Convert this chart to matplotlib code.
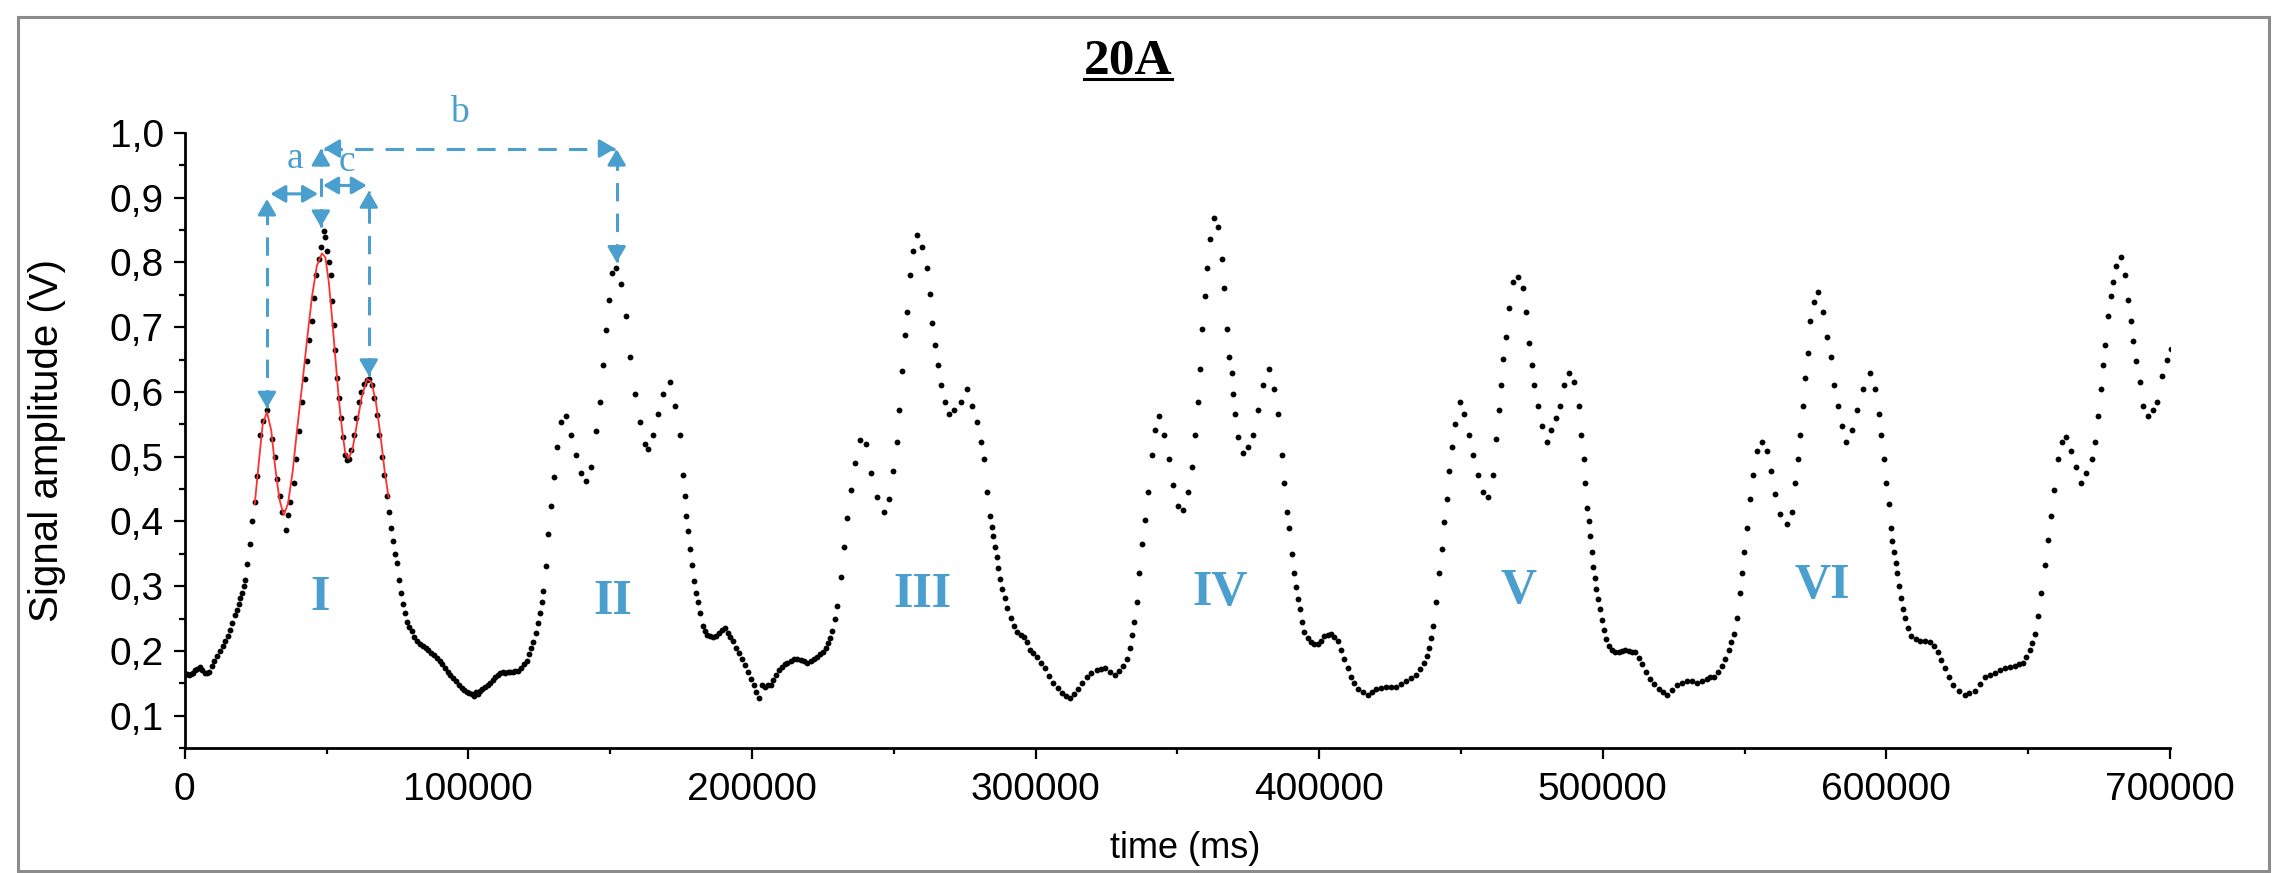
import numpy as np
import matplotlib
matplotlib.use('Agg')
import matplotlib.pyplot as plt
from matplotlib.ticker import FuncFormatter, MultipleLocator
from matplotlib.patches import Rectangle
from matplotlib.lines import Line2D

plt.rcParams['font.family'] = 'Liberation Sans'

# Measured signal, one pair of lists per 100000 ms stretch (time in ms, amplitude in V).
t_seg0 = [0, 800, 1500, 2300, 3000, 3800, 4500, 5500, 6200, 7000,
          7800, 8500, 9500, 10500, 11500, 12500, 13400, 14300, 15200, 16000,
          16800, 17600, 18300, 19000, 19600, 20200, 20800, 21300, 21900, 23000,
          23700, 24700, 25500, 26700, 27600, 29000, 30800, 31700, 32600, 33500,
          34400, 35700, 36500, 37300, 38400, 39200, 40300, 41300, 42300, 43100,
          44000, 44900, 45600, 46400, 47200, 47900, 49000, 49600, 50200, 50800,
          51500, 52100, 52500, 53000, 53700, 54300, 55000, 55700, 56400, 57200,
          57900, 58800, 59700, 60500, 61500, 62300, 63300, 64200, 65000, 65900,
          66800, 67800, 68600, 69400, 70300, 71200, 72100, 72700, 73300, 74000,
          74700, 75500, 76300, 77000, 77700, 78500, 79200, 80000, 81000, 82000,
          83000, 84000, 85000, 85900, 86900, 87900, 88900, 89900, 90800, 91800,
          92800, 93700, 94700, 95700, 96700, 97700, 98600, 99500]
v_seg0 = [0.165, 0.164, 0.163, 0.165, 0.166, 0.170, 0.172, 0.175, 0.170, 0.166,
          0.166, 0.168, 0.176, 0.185, 0.192, 0.200, 0.207, 0.215, 0.223, 0.232,
          0.243, 0.255, 0.263, 0.272, 0.281, 0.290, 0.300, 0.310, 0.335, 0.365,
          0.400, 0.430, 0.470, 0.534, 0.555, 0.572, 0.528, 0.500, 0.465, 0.440,
          0.415, 0.386, 0.410, 0.430, 0.460, 0.497, 0.540, 0.585, 0.620, 0.648,
          0.680, 0.710, 0.745, 0.780, 0.805, 0.824, 0.849, 0.840, 0.817, 0.800,
          0.780, 0.740, 0.704, 0.665, 0.622, 0.590, 0.559, 0.530, 0.503, 0.495,
          0.497, 0.510, 0.534, 0.560, 0.585, 0.600, 0.613, 0.618, 0.620, 0.610,
          0.590, 0.565, 0.534, 0.500, 0.471, 0.440, 0.415, 0.390, 0.370, 0.350,
          0.336, 0.310, 0.290, 0.272, 0.259, 0.245, 0.237, 0.230, 0.222, 0.215,
          0.210, 0.207, 0.204, 0.202, 0.197, 0.193, 0.189, 0.184, 0.179, 0.174,
          0.168, 0.163, 0.158, 0.153, 0.148, 0.143, 0.140, 0.137]

t_seg1 = [100400, 101200, 102000, 102700, 103400, 104100, 105000, 105900, 106800, 107700,
          108600, 109500, 110400, 111200, 112100, 113000, 113900, 114700, 115600, 116600,
          117600, 118600, 119600, 120600, 121400, 122200, 122900, 123700, 124500, 125300,
          125900, 126400, 127300, 128100, 129000, 130100, 131300, 132800, 134600, 136300,
          138100, 139800, 141600, 143400, 144900, 146300, 147500, 148700, 149600, 150800,
          152200, 153900, 155500, 156900, 158600, 160400, 162200, 163300, 165100, 166900,
          168600, 171000, 172700, 174500, 175700, 176300, 176900, 177500, 178000, 178700,
          179400, 180200, 181000, 181800, 182700, 183500, 184300, 185100, 186200, 187400,
          188400, 189400, 190400, 191400, 192300, 193300, 194400, 195500, 196600, 197600,
          198600, 199600]
v_seg1 = [0.135, 0.133, 0.131, 0.136, 0.134, 0.138, 0.141, 0.145, 0.148, 0.151,
          0.155, 0.159, 0.163, 0.166, 0.167, 0.166, 0.168, 0.167, 0.168, 0.169,
          0.169, 0.174, 0.180, 0.184, 0.195, 0.204, 0.213, 0.228, 0.243, 0.259,
          0.276, 0.292, 0.331, 0.380, 0.424, 0.468, 0.515, 0.553, 0.563, 0.534,
          0.503, 0.475, 0.462, 0.484, 0.540, 0.585, 0.641, 0.695, 0.742, 0.783,
          0.792, 0.767, 0.717, 0.654, 0.597, 0.553, 0.519, 0.512, 0.534, 0.566,
          0.597, 0.616, 0.578, 0.534, 0.471, 0.440, 0.408, 0.385, 0.358, 0.333,
          0.308, 0.290, 0.276, 0.258, 0.238, 0.230, 0.225, 0.223, 0.222, 0.223,
          0.228, 0.232, 0.235, 0.228, 0.222, 0.216, 0.205, 0.196, 0.188, 0.178,
          0.167, 0.157]

t_seg2 = [200600, 201500, 202500, 203700, 204700, 205600, 206600, 207600, 208500, 209500,
          210500, 211500, 212500, 213700, 214800, 216000, 217200, 218300, 219500, 220700,
          221900, 223100, 224100, 225100, 226000, 226800, 227600, 228300, 229200, 230100,
          231300, 232500, 233600, 234800, 236200, 238100, 240100, 241900, 244200, 246600,
          248300, 249800, 251000, 251800, 253000, 253800, 254800, 255700, 256800, 258300,
          260100, 261600, 262800, 263600, 264500, 265600, 266800, 267900, 269500, 271200,
          273600, 275900, 277700, 279500, 280900, 282000, 283000, 283900, 284500, 285100,
          285700, 286300, 286900, 287400, 288200, 289100, 290100, 291200, 292400, 293600,
          294700, 295800, 296900, 298000, 299200]
v_seg2 = [0.147, 0.137, 0.128, 0.147, 0.145, 0.148, 0.147, 0.155, 0.163, 0.170,
          0.175, 0.179, 0.182, 0.185, 0.187, 0.188, 0.186, 0.184, 0.182, 0.185,
          0.188, 0.191, 0.195, 0.199, 0.204, 0.212, 0.220, 0.230, 0.250, 0.270,
          0.314, 0.361, 0.405, 0.449, 0.490, 0.525, 0.519, 0.475, 0.437, 0.415,
          0.434, 0.478, 0.522, 0.572, 0.632, 0.688, 0.723, 0.780, 0.817, 0.843,
          0.824, 0.792, 0.751, 0.707, 0.673, 0.641, 0.610, 0.585, 0.566, 0.572,
          0.585, 0.604, 0.578, 0.553, 0.522, 0.497, 0.446, 0.408, 0.392, 0.377,
          0.360, 0.345, 0.328, 0.311, 0.296, 0.282, 0.266, 0.251, 0.238, 0.229,
          0.225, 0.222, 0.213, 0.201, 0.196]

t_seg3 = [300400, 301800, 303300, 304800, 306300, 307800, 309200, 310700, 312200, 313600,
          315100, 316500, 318000, 319700, 321500, 323000, 324500, 326200, 328000, 329500,
          331000, 332200, 333300, 334100, 334800, 335600, 336500, 337400, 338600, 339800,
          341000, 342100, 343500, 345400, 347000, 348600, 350300, 352100, 353900, 355000,
          356200, 357200, 358000, 358800, 359700, 360600, 361500, 362900, 364400, 365600,
          366400, 367400, 368300, 369100, 369700, 370300, 371500, 373200, 375000, 376800,
          378500, 380300, 382300, 384200, 385600, 386800, 387700, 388500, 389400, 390300,
          391200, 392000, 392600, 393200, 394000, 394800, 396000, 397100, 398300, 399500]
v_seg3 = [0.191, 0.182, 0.173, 0.161, 0.150, 0.142, 0.135, 0.131, 0.128, 0.134,
          0.141, 0.150, 0.160, 0.166, 0.170, 0.172, 0.173, 0.168, 0.163, 0.169,
          0.176, 0.188, 0.204, 0.224, 0.245, 0.276, 0.320, 0.365, 0.402, 0.446,
          0.503, 0.541, 0.563, 0.534, 0.497, 0.456, 0.424, 0.418, 0.446, 0.484,
          0.534, 0.585, 0.635, 0.698, 0.748, 0.792, 0.836, 0.868, 0.855, 0.805,
          0.761, 0.698, 0.654, 0.629, 0.597, 0.566, 0.531, 0.506, 0.515, 0.534,
          0.572, 0.610, 0.635, 0.604, 0.566, 0.503, 0.459, 0.415, 0.390, 0.349,
          0.320, 0.298, 0.280, 0.264, 0.245, 0.229, 0.220, 0.213, 0.211, 0.210]

t_seg4 = [400600, 401800, 403000, 404200, 405300, 406500, 407700, 408900, 410000, 411200,
          412400, 413600, 415300, 417100, 418500, 420000, 421800, 423600, 425300, 427100,
          428800, 430600, 432300, 434100, 435600, 437100, 438000, 438900, 439600, 440300,
          441200, 442400, 443300, 444100, 445000, 445900, 446800, 448000, 449700, 451200,
          452700, 454100, 455900, 457700, 459400, 461200, 462400, 463300, 464100, 464900,
          465900, 466800, 468200, 470000, 471800, 472900, 474100, 475000, 475900, 477000,
          478600, 480200, 481700, 483500, 484900, 486400, 488000, 490000, 491500, 492300,
          493300, 493900, 494500, 495000, 495600, 496100, 496600, 497200, 497700, 498300,
          498900, 499600]
v_seg4 = [0.216, 0.223, 0.225, 0.226, 0.222, 0.216, 0.202, 0.188, 0.174, 0.160,
          0.150, 0.141, 0.136, 0.132, 0.136, 0.141, 0.143, 0.144, 0.144, 0.144,
          0.149, 0.154, 0.158, 0.163, 0.172, 0.182, 0.192, 0.204, 0.220, 0.238,
          0.276, 0.320, 0.358, 0.399, 0.434, 0.478, 0.515, 0.550, 0.585, 0.566,
          0.534, 0.503, 0.471, 0.446, 0.437, 0.471, 0.528, 0.572, 0.610, 0.651,
          0.685, 0.729, 0.770, 0.777, 0.761, 0.723, 0.676, 0.641, 0.610, 0.578,
          0.547, 0.522, 0.541, 0.559, 0.578, 0.610, 0.629, 0.616, 0.578, 0.534,
          0.497, 0.460, 0.421, 0.400, 0.377, 0.352, 0.330, 0.312, 0.295, 0.280,
          0.264, 0.248]

t_seg5 = [500300, 501200, 502100, 503200, 504400, 505600, 506800, 508000, 509200, 510300,
          511500, 512700, 513800, 515300, 516800, 518200, 519700, 521200, 522700, 524400,
          526200, 527900, 529700, 531400, 533200, 535000, 536800, 537900, 539100, 540500,
          542000, 543200, 544400, 545300, 546200, 547300, 548300, 549100, 549900, 550900,
          551800, 553000, 554400, 556100, 557900, 559300, 560800, 562600, 564900, 566700,
          567900, 568700, 569700, 570600, 571400, 572200, 573200, 574400, 575800, 577600,
          579100, 580500, 581600, 582800, 584300, 585900, 587900, 589600, 591800, 594100,
          596100, 597300, 598200, 599200]
v_seg5 = [0.232, 0.218, 0.207, 0.202, 0.198, 0.199, 0.200, 0.201, 0.200, 0.199,
          0.198, 0.189, 0.179, 0.168, 0.157, 0.149, 0.141, 0.136, 0.132, 0.140,
          0.147, 0.151, 0.154, 0.153, 0.151, 0.154, 0.157, 0.159, 0.160, 0.167,
          0.176, 0.188, 0.201, 0.213, 0.226, 0.251, 0.289, 0.320, 0.352, 0.390,
          0.434, 0.471, 0.509, 0.522, 0.509, 0.478, 0.443, 0.412, 0.396, 0.415,
          0.459, 0.497, 0.534, 0.578, 0.622, 0.660, 0.710, 0.739, 0.755, 0.723,
          0.685, 0.654, 0.610, 0.578, 0.547, 0.522, 0.541, 0.572, 0.604, 0.629,
          0.604, 0.566, 0.534, 0.497]

t_seg6 = [600000, 600800, 601500, 602100, 602700, 603300, 603900, 604500, 605000, 605700,
          606500, 607600, 608800, 610300, 611800, 613500, 615300, 616700, 618200, 619400,
          620600, 622000, 623500, 625500, 627600, 629300, 631100, 632900, 634700, 636400,
          638200, 640000, 641700, 643500, 645200, 646700, 648200, 649400, 650500, 651400,
          652300, 653500, 654600, 655800, 657000, 657900, 659100, 660500, 661900, 663400,
          665200, 667000, 668500, 670500, 672500, 673700, 674600, 675600, 676400, 677200,
          678100, 679100, 679900, 681100, 682600, 684000, 685200, 686100, 687100, 688000,
          689300, 690500, 692200, 694000, 695500, 697300, 699000, 700400]
v_seg6 = [0.459, 0.427, 0.390, 0.370, 0.352, 0.336, 0.320, 0.300, 0.282, 0.265,
          0.251, 0.236, 0.223, 0.219, 0.216, 0.215, 0.213, 0.207, 0.198, 0.186,
          0.173, 0.160, 0.147, 0.138, 0.132, 0.135, 0.138, 0.149, 0.160, 0.163,
          0.166, 0.170, 0.173, 0.175, 0.176, 0.179, 0.182, 0.190, 0.201, 0.212,
          0.226, 0.254, 0.289, 0.333, 0.371, 0.408, 0.449, 0.497, 0.522, 0.531,
          0.509, 0.484, 0.459, 0.475, 0.497, 0.522, 0.563, 0.604, 0.641, 0.673,
          0.717, 0.748, 0.770, 0.795, 0.808, 0.780, 0.742, 0.710, 0.679, 0.648,
          0.616, 0.578, 0.563, 0.572, 0.585, 0.625, 0.650, 0.667]

# Red fitted curve over the first cycle.
t_fit = [24700, 26100, 27500, 29000, 30500, 31900, 33400, 34900, 36400, 38100, 39600, 41400,
         43100, 44900, 46600, 48400, 49600, 50800, 51900, 53100, 54300, 55500, 56600, 57800,
         59200, 60700, 62500, 64300, 65800, 67400, 69000, 70500, 71900]
v_fit = [0.427, 0.490, 0.550, 0.569, 0.541, 0.484, 0.434, 0.410, 0.427, 0.478, 0.541, 0.610,
         0.679, 0.748, 0.795, 0.814, 0.808, 0.770, 0.717, 0.654, 0.591, 0.541, 0.506, 0.497,
         0.512, 0.550, 0.594, 0.620, 0.616, 0.585, 0.534, 0.478, 0.437]

cycle_labels = ['I', 'II', 'III', 'IV', 'V', 'VI']
label_t = [47800, 151000, 260100, 365000, 470300, 577300]
label_v = [0.281, 0.276, 0.286, 0.289, 0.292, 0.300]

BLUE = '#4a9fce'
DASH = (0, (6, 4))
HEAD = '-|>,head_length=0.6,head_width=0.35'

t_all = np.concatenate([t_seg0, t_seg1, t_seg2, t_seg3, t_seg4, t_seg5, t_seg6])
v_all = np.concatenate([v_seg0, v_seg1, v_seg2, v_seg3, v_seg4, v_seg5, v_seg6])


def head(ax, x, y, dx, dy):
    """Filled arrow head with its tip at (x, y), coming from the offset (dx, dy) in points."""
    ax.annotate('', xy=(x, y), xytext=(dx, dy), textcoords='offset points',
                arrowprops=dict(arrowstyle=HEAD, color=BLUE, lw=2, shrinkA=0, shrinkB=0,
                                mutation_scale=16),
                annotation_clip=False)


def dashed(ax, xs, ys):
    ax.plot(xs, ys, color=BLUE, lw=2.2, linestyle=DASH, clip_on=False, zorder=4)


def double_arrow(ax, x0, x1, y):
    ax.annotate('', xy=(x0, y), xytext=(x1, y),
                arrowprops=dict(arrowstyle='<|' + HEAD, color=BLUE, lw=2.2,
                                shrinkA=0, shrinkB=0, mutation_scale=15))


W, H = 2288, 873
fig = plt.figure(figsize=(W / 100, H / 100), dpi=100)
ax = fig.add_axes([184.7 / W, 125 / H, (2170 - 184.7) / W, 615 / H])

ax.plot(t_all, v_all, 'o', color='black', ms=4.2, mew=0, zorder=3)
ax.plot(t_fit, v_fit, '-', color='#ff3030', lw=1.3, zorder=4)

ax.set_xlim(0, 700000)
ax.set_ylim(0.05, 1.0)
for side in ['top', 'right']:
    ax.spines[side].set_visible(False)
for side in ['left', 'bottom']:
    ax.spines[side].set_linewidth(2.0)

ax.xaxis.set_major_locator(MultipleLocator(100000))
ax.xaxis.set_minor_locator(MultipleLocator(50000))
ax.yaxis.set_major_locator(MultipleLocator(0.1))
ax.yaxis.set_minor_locator(MultipleLocator(0.05))
ax.yaxis.set_major_formatter(FuncFormatter(lambda v, p: f'{v:.1f}'.replace('.', ',')))
ax.xaxis.set_major_formatter(FuncFormatter(lambda v, p: f'{int(round(v))}'))
ax.tick_params(which='major', direction='out', length=8, width=1.6, labelsize=28)
ax.tick_params(which='minor', direction='out', length=4.5, width=1.6)
ax.tick_params(axis='x', pad=9)
ax.tick_params(axis='y', pad=7)

# Cycle numbers
for lab, tx, vy in zip(cycle_labels, label_t, label_v):
    ax.text(tx, vy, lab, ha='center', va='center', color=BLUE, fontsize=36,
            fontweight='bold', family='Liberation Serif')

# Peak spacing arrows
dashed(ax, [29000, 29000], [0.575, 0.898])
head(ax, 29000, 0.575, 0, 9)
head(ax, 29000, 0.898, 0, -9)
dashed(ax, [48000, 48000], [0.855, 0.975])
head(ax, 48000, 0.855, 0, 9)
head(ax, 48000, 0.975, 0, -9)
dashed(ax, [64900, 64900], [0.625, 0.910])
head(ax, 64900, 0.625, 0, 9)
head(ax, 64900, 0.910, 0, -9)
dashed(ax, [152300, 152300], [0.800, 0.975])
head(ax, 152300, 0.800, 0, 9)
head(ax, 152300, 0.975, 0, -9)

double_arrow(ax, 30200, 47000, 0.906)
double_arrow(ax, 48800, 64200, 0.919)
dashed(ax, [49000, 151800], [0.976, 0.976])
head(ax, 49000, 0.976, 9, 0)
head(ax, 151800, 0.976, -9, 0)

for lab, tx, vy in [('a', 39000, 0.960), ('c', 57200, 0.955), ('b', 96700, 1.031)]:
    ax.text(tx, vy, lab, ha='center', va='center', color=BLUE, fontsize=27,
            family='Liberation Serif', clip_on=False)

# Labels and title
fig.text(47 / W, 1 - 440 / H, 'Signal amplitude (V)', rotation=90, ha='center', va='center',
         fontsize=29)
fig.text(1185 / W, 1 - 848 / H, 'time (ms)', ha='center', va='center', fontsize=26)
title = fig.text(1128 / W, 1 - 73 / H, '20A', ha='center', va='baseline', fontsize=37,
                 fontweight='bold', family='Liberation Serif')

fig.canvas.draw()
bb = title.get_window_extent(fig.canvas.get_renderer())
fig.add_artist(Line2D([bb.x0 / W, bb.x1 / W], [1 - 79 / H, 1 - 79 / H], color='black', lw=2.2,
                      transform=fig.transFigure))

# Grey frame around the whole picture
fig.add_artist(Rectangle((18 / W, 2 / H), (2269 - 18) / W, (856 - 2) / H, transform=fig.transFigure,
                         fill=False, edgecolor='#8c8c8c', lw=2.2))

fig.savefig('out.png', dpi=100)
